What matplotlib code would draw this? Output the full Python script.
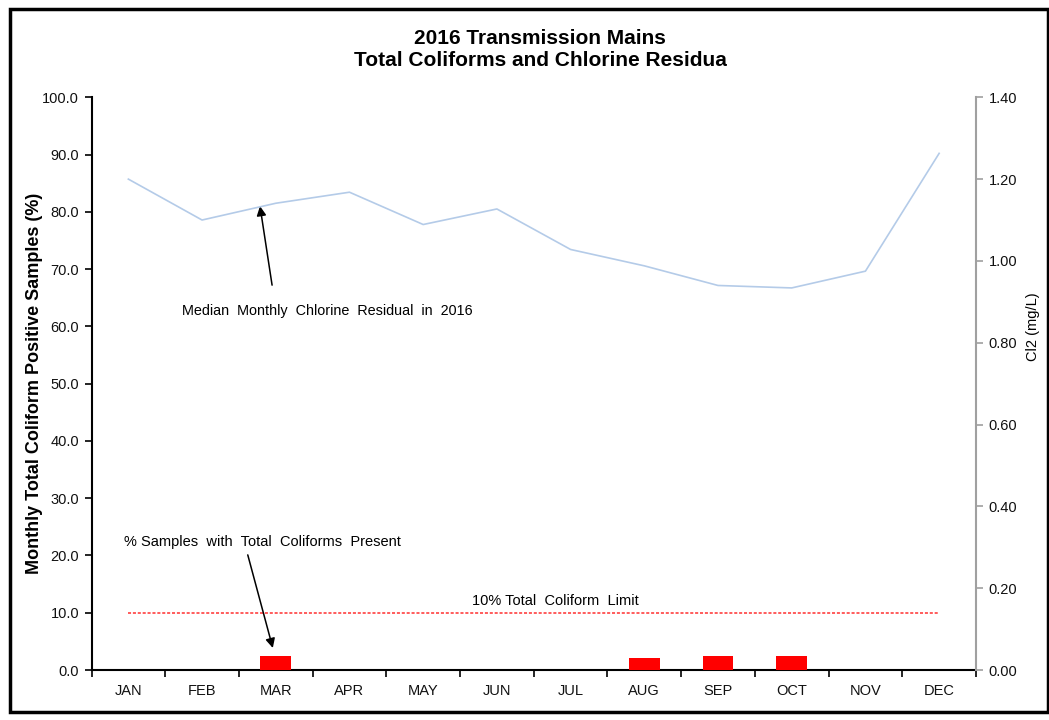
import matplotlib
matplotlib.use("Agg")
import matplotlib.pyplot as plt
from matplotlib.patches import Rectangle
import numpy as np

months = ["JAN", "FEB", "MAR", "APR", "MAY", "JUN", "JUL", "AUG", "SEP", "OCT", "NOV", "DEC"]
coliform_pct = [0, 0, 2.5, 0, 0, 0, 0, 2.1, 2.5, 2.5, 0, 0]
chlorine = [1.20, 1.10, 1.141, 1.168, 1.089, 1.127, 1.028, 0.988, 0.940, 0.934, 0.975, 1.263]
limit = [10.0] * 12
left_ticks = [0, 10, 20, 30, 40, 50, 60, 70, 80, 90, 100]
right_ticks = [0.0, 0.2, 0.4, 0.6, 0.8, 1.0, 1.2, 1.4]

plt.rcParams['font.family'] = ['Liberation Sans', 'DejaVu Sans']

W, H = 1049, 720
fig = plt.figure(figsize=(W / 100, H / 100), dpi=100)
ax_l, ax_r, ax_t, ax_b = 91.5, 976, 97.3, 670
ax = fig.add_axes([ax_l / W, 1 - ax_b / H, (ax_r - ax_l) / W, (ax_b - ax_t) / H])
x = np.arange(len(months))

ax.bar(x, coliform_pct, width=0.42, color='#FF0000', zorder=3)
ax.plot(x, limit, color='#FF3030', lw=1.1, dashes=(2, 1.2), zorder=2)
ax.set_xlim(-0.5, 11.5)
ax.set_ylim(0, 100)
ax.set_yticks(left_ticks)
ax.set_yticklabels([f"{v:.1f}" for v in left_ticks], fontsize=10.5, color='#111111')
ax.set_xticks(x)
ax.set_xticklabels(months, fontsize=10.5, color='#111111')
ax.set_xticks(np.arange(-0.5, 12, 1), minor=True)
ax.tick_params(axis='x', which='major', length=0, pad=10)
ax.tick_params(axis='x', which='minor', length=5, width=1.2, direction='out')
ax.tick_params(axis='y', length=5, width=1.2, direction='out', pad=4)
for s in ['top', 'right']:
    ax.spines[s].set_visible(False)
ax.spines['left'].set_linewidth(1.5)
ax.spines['bottom'].set_linewidth(1.5)
ax.set_ylabel("Monthly Total Coliform Positive Samples (%)", fontsize=13, fontweight='bold')
ax.yaxis.set_label_coords((43 - ax_l) / (ax_r - ax_l), 0.5)

ax2 = ax.twinx()
ax2.plot(x, chlorine, color='#B4CBE8', lw=1.2, zorder=3)
ax2.set_ylim(0, 1.4)
ax2.set_yticks(right_ticks)
ax2.set_yticklabels([f"{v:.2f}" for v in right_ticks], fontsize=10.5, color='#111111')
ax2.tick_params(axis='y', length=5, width=1.2, color='#A0A0A0', direction='out', pad=4)
for s in ['top', 'left', 'bottom']:
    ax2.spines[s].set_visible(False)
ax2.spines['right'].set_color('#A0A0A0')
ax2.spines['right'].set_linewidth(1.5)
ax2.set_ylabel("Cl2 (mg/L)", fontsize=10.5)
ax2.yaxis.set_label_coords((1026 - ax_l) / (ax_r - ax_l), 0.6)

# annotations (left axis data coordinates)
ax.text(0.728, 62.7, "Median  Monthly  Chlorine  Residual  in  2016", fontsize=10.4, va='center', ha='left')
ax.annotate("", xy=(1.786, 81.0), xytext=(1.95, 67.2),
            arrowprops=dict(arrowstyle='-|>', color='black', lw=1.1, mutation_scale=14, shrinkA=0, shrinkB=0))
ax.text(-0.059, 22.4, "% Samples  with  Total  Coliforms  Present", fontsize=10.5, va='center', ha='left')
ax.annotate("", xy=(1.96, 3.84), xytext=(1.62, 20.1),
            arrowprops=dict(arrowstyle='-|>', color='black', lw=1.1, mutation_scale=14, shrinkA=0, shrinkB=0))
ax.text(5.79, 12.05, "10% Total  Coliform  Limit", fontsize=10.5, va='center', ha='center')

fig.text(540 / W, 1 - 39 / H, "2016 Transmission Mains", fontsize=15, fontweight='bold', ha='center', va='center')
fig.text(540 / W, 1 - 61 / H, "Total Coliforms and Chlorine Residua", fontsize=15, fontweight='bold', ha='center', va='center')

fig.add_artist(Rectangle((10 / W, 1 - 712 / H), (1048 - 10) / W, (712 - 9) / H,
                         transform=fig.transFigure, fill=False, lw=2.5, edgecolor='black'))

fig.savefig("out.png", dpi=100)
